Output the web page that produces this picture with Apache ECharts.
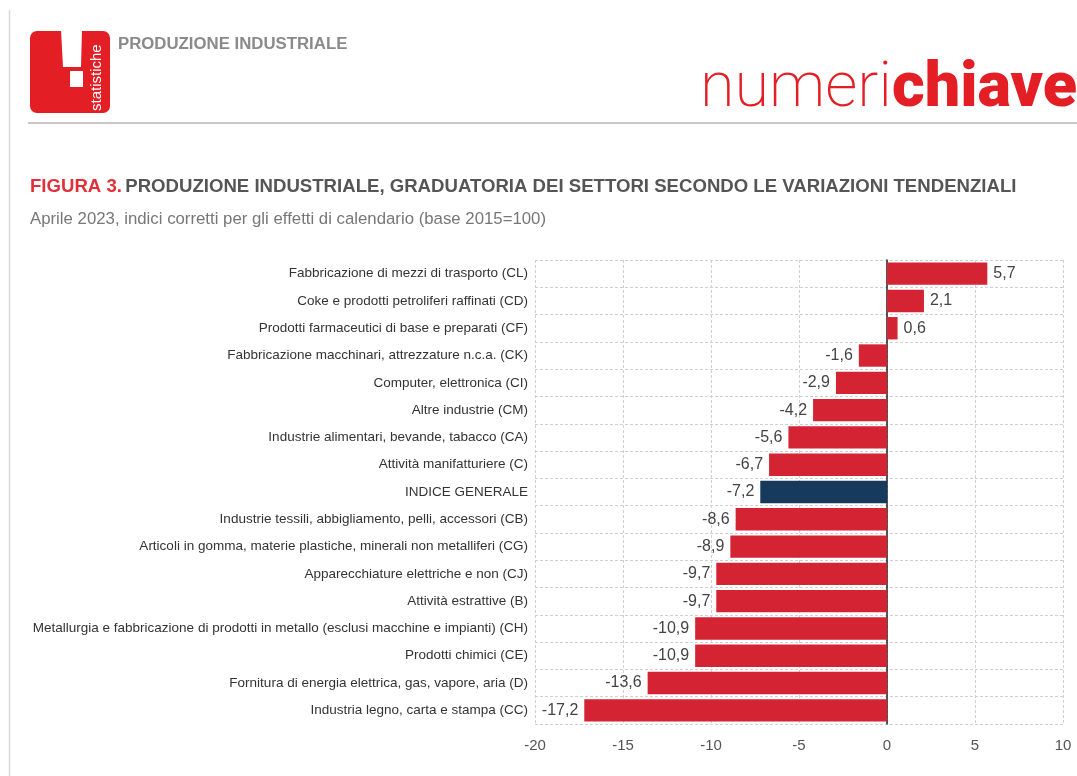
<!DOCTYPE html>
<html>
<head>
<meta charset="utf-8">
<script src="https://cdn.jsdelivr.net/npm/echarts@6/dist/echarts.min.js"></script>
<style>
html,body{margin:0;padding:0;background:#fff;}
#c{width:1077px;height:776px;}
</style>
</head>
<body>
<div id="c"></div>
<script>
const categories = [
  "Fabbricazione di mezzi di trasporto (CL)",
  "Coke e prodotti petroliferi raffinati (CD)",
  "Prodotti farmaceutici di base e preparati (CF)",
  "Fabbricazione macchinari, attrezzature n.c.a. (CK)",
  "Computer, elettronica (CI)",
  "Altre industrie (CM)",
  "Industrie alimentari, bevande, tabacco (CA)",
  "Attività manifatturiere (C)",
  "INDICE GENERALE",
  "Industrie tessili, abbigliamento, pelli, accessori (CB)",
  "Articoli in gomma, materie plastiche, minerali non metalliferi (CG)",
  "Apparecchiature elettriche e non (CJ)",
  "Attività estrattive (B)",
  "Metallurgia e fabbricazione di prodotti in metallo (esclusi macchine e impianti) (CH)",
  "Prodotti chimici (CE)",
  "Fornitura di energia elettrica, gas, vapore, aria (D)",
  "Industria legno, carta e stampa (CC)"
];
const values = [5.7, 2.1, 0.6, -1.6, -2.9, -4.2, -5.6, -6.7, -7.2, -8.6, -8.9, -9.7, -9.7, -10.9, -10.9, -13.6, -17.2];
const highlight = "INDICE GENERALE";
const xTicks = [-20, -15, -10, -5, 0, 5, 10];

const RED = '#d42332', NAVY = '#173a5c';
const FONT = '"Liberation Sans Narrow","Arial Narrow","Liberation Sans",Arial,sans-serif';

const chart = echarts.init(document.getElementById('c'), null, {renderer:'canvas'});
const data = values.map((v,i)=>({
  value: v,
  itemStyle: {color: categories[i]===highlight ? NAVY : RED},
  label: {position: v>=0 ? 'right' : 'left'}
}));

chart.setOption({
  animation:false,
  backgroundColor:'#fff',
  grid:{left:535, right:14, top:260, height:464, containLabel:false},
  xAxis:{
    type:'value', min:xTicks[0], max:xTicks[xTicks.length-1], interval:5,
    axisLine:{show:false}, axisTick:{show:false},
    axisLabel:{color:'#555', fontFamily:FONT, fontSize:15, margin:14},
    splitLine:{show:true, lineStyle:{color:'#d0d0d0', type:[3,2], width:1}}
  },
  yAxis:{
    type:'category', data:categories, inverse:true,
    axisLine:{show:true, onZero:true, lineStyle:{color:'#222', width:1.5}},
    axisTick:{show:false},
    axisLabel:{color:'#333', fontFamily:FONT, fontSize:13.5, margin:7},
    splitLine:{show:true, lineStyle:{color:'#d0d0d0', type:[3,2], width:1}}
  },
  series:[{
    type:'bar', data:data, barCategoryGap:'18%',
    label:{show:true, color:'#444', fontFamily:FONT, fontSize:16, distance:6,
      formatter:p=>String(p.value).replace('.',',')}
  }],
  graphic:[
    {type:'line', shape:{x1:9.5,y1:10,x2:9.5,y2:776}, style:{stroke:'#d8d8d8', lineWidth:1.5}},
    {type:'line', shape:{x1:28,y1:123,x2:1077,y2:123}, style:{stroke:'#c8c8c8', lineWidth:2}},
    {type:'rect', shape:{x:30,y:31,width:80,height:82,r:7}, style:{fill:'#e31e24'}},
    {type:'polygon', shape:{points:[[61,30],[82,30],[81,67],[63,67]]}, style:{fill:'#fff'}},
    {type:'rect', shape:{x:70,y:71,width:13,height:16}, style:{fill:'#fff'}},
    {type:'text', x:97, y:111, rotation:Math.PI/2,
      style:{text:'statistiche', fill:'#fff', font:'15px "Liberation Sans",Arial,sans-serif', textAlign:'left', textVerticalAlign:'middle'}},
    {type:'text', x:118, y:44, style:{text:'PRODUZIONE INDUSTRIALE', fill:'#8a8a8a',
      font:'bold 16.8px "Liberation Sans Narrow","Liberation Sans",Arial,sans-serif', textVerticalAlign:'middle'}},
    {type:'text', x:1077, y:90, style:{
      text:'{a|numeri}{b|chiave}', textAlign:'right', textVerticalAlign:'middle',
      rich:{
        a:{fill:'#e31e24', fontFamily:'Roboto, "Liberation Sans", sans-serif', fontWeight:200, fontSize:63},
        b:{fill:'#e31e24', fontFamily:'Roboto, "Liberation Sans", sans-serif', fontWeight:900, fontSize:63}
      }}},
    {type:'text', x:30, y:187, style:{
      text:'{r|FIGURA 3.} {g|PRODUZIONE INDUSTRIALE, GRADUATORIA DEI SETTORI SECONDO LE VARIAZIONI TENDENZIALI}',
      textVerticalAlign:'middle',
      rich:{
        r:{fill:'#e2303a', fontFamily:FONT, fontWeight:'bold', fontSize:18.6},
        g:{fill:'#555', fontFamily:FONT, fontWeight:'bold', fontSize:18.6}
      }}},
    {type:'text', x:30, y:219, style:{text:'Aprile 2023, indici corretti per gli effetti di calendario (base 2015=100)',
      fill:'#777', font:'16.8px '+FONT, textVerticalAlign:'middle'}}
  ]
});
</script>
</body>
</html>
